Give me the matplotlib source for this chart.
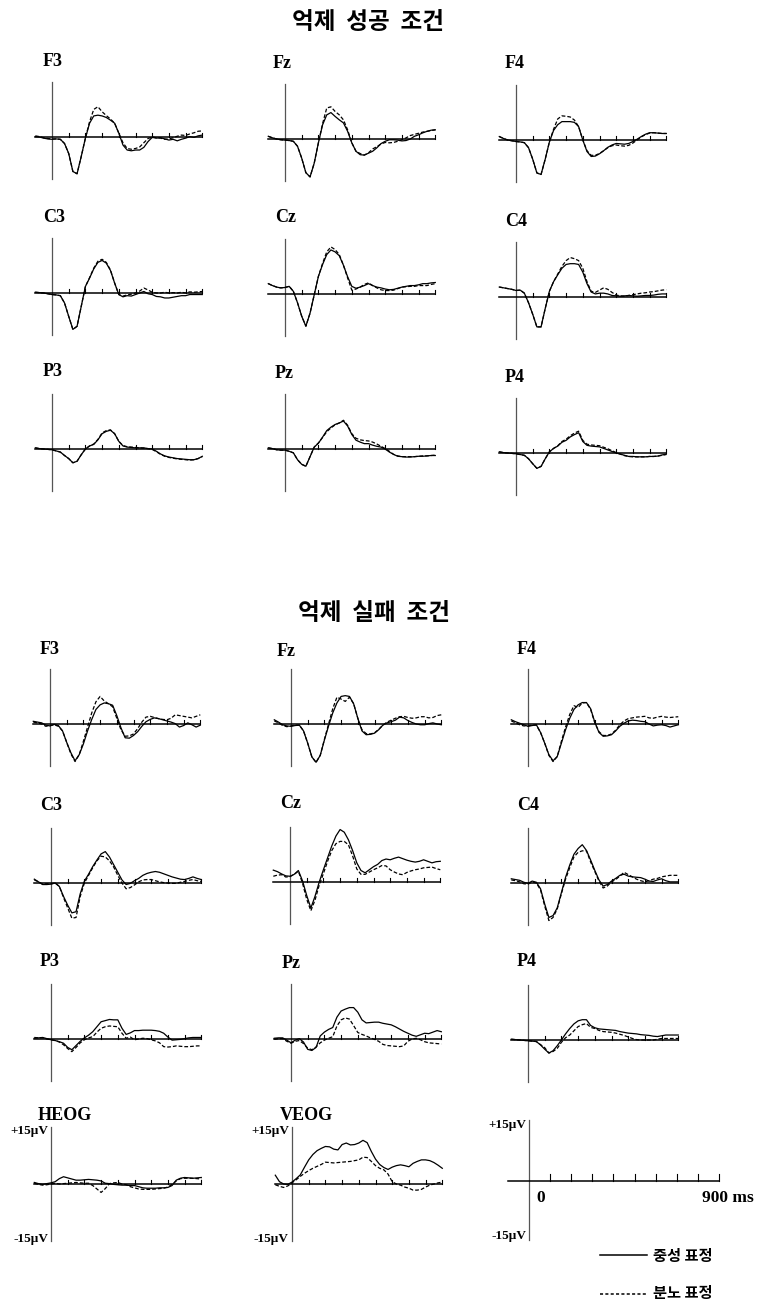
import numpy as np
import matplotlib
matplotlib.use("Agg")
import matplotlib.pyplot as plt

# time axis (ms), 25 ms steps from -100 to 900
t = np.arange(-100, 901, 25)

# ---- 억제 성공 조건 (neutral = solid, angry = dashed), values in µV ----
succ_F3_neu = [0.1, 0.0, -0.3, -0.5, -0.6, -0.5, -0.6, -1.7, -4.3, -9.0, -9.6, -5.1, -0.3, 3.6, 5.5, 5.7, 5.5, 5.1, 4.4, 3.6, 1.0, -2.1, -3.4, -3.6, -3.4, -3.4, -2.7, -1.2, -0.1, -0.3, -0.2, -0.5, -0.8, -0.6, -1.0, -0.6, -0.3, 0.1, -0.1, 0.3, 0.5]
succ_F3_ang = [0.3, 0.1, -0.2, -0.4, -0.5, -0.5, -0.6, -1.7, -4.3, -9.0, -9.6, -5.1, -0.3, 4.0, 7.2, 7.9, 6.6, 5.6, 4.7, 3.6, 1.0, -1.5, -3.0, -3.2, -3.0, -2.6, -1.5, -0.4, 0.0, -0.2, -0.3, -0.6, -0.5, -0.2, 0.2, 0.5, 0.4, 0.8, 1.1, 1.5, 1.6]
succ_Fz_neu = [0.7, 0.3, 0.0, -0.2, -0.3, -0.4, -0.6, -1.9, -5.0, -8.8, -9.9, -6.3, -1.0, 3.7, 6.3, 6.9, 5.9, 5.0, 4.2, 2.0, -1.0, -3.2, -4.1, -4.2, -3.7, -3.2, -2.3, -1.2, -0.6, -0.2, -0.2, -0.3, -0.5, -0.4, 0.0, 0.7, 1.1, 1.6, 2.0, 2.3, 2.4]
succ_Fz_ang = [0.7, 0.3, 0.0, -0.2, -0.3, -0.4, -0.6, -1.9, -5.0, -8.8, -9.9, -6.3, -1.0, 4.0, 8.1, 8.4, 7.2, 6.3, 5.0, 2.4, -1.0, -3.2, -3.8, -4.2, -3.6, -2.6, -2.0, -1.3, -0.9, -1.0, -0.9, -0.6, -0.2, 0.3, 0.9, 1.2, 1.5, 1.8, 2.0, 2.2, 2.4]
succ_F4_neu = [0.9, 0.4, 0.0, -0.2, -0.4, -0.5, -0.7, -2.0, -5.0, -8.6, -9.0, -5.0, -0.5, 2.5, 4.0, 4.8, 4.8, 4.8, 4.6, 3.5, 0.0, -3.0, -4.3, -4.2, -3.6, -2.8, -1.9, -1.3, -0.9, -1.0, -1.1, -0.9, -0.4, 0.2, 0.9, 1.5, 1.9, 1.9, 1.8, 1.7, 1.7]
succ_F4_ang = [0.9, 0.4, 0.0, -0.2, -0.4, -0.5, -0.7, -2.0, -5.0, -8.6, -9.0, -5.0, -0.5, 2.8, 5.5, 6.3, 6.2, 6.0, 5.2, 3.5, 0.0, -2.8, -4.0, -4.0, -3.5, -2.8, -2.0, -1.5, -1.3, -1.5, -1.6, -1.4, -0.8, 0.0, 0.8, 1.4, 1.8, 1.9, 1.8, 1.7, 1.7]
succ_C3_neu = [0.2, 0.1, 0.0, -0.2, -0.4, -0.5, -0.7, -2.6, -6.1, -9.5, -8.7, -3.5, 1.7, 3.9, 6.3, 8.0, 8.5, 7.8, 5.9, 2.6, -0.4, -1.0, -0.7, -0.8, -0.4, 0.0, 0.4, -0.2, -0.4, -0.9, -1.0, -1.3, -1.3, -1.1, -0.9, -0.7, -0.7, -0.4, -0.4, -0.4, -0.4]
succ_C3_ang = [0.2, 0.1, 0.0, -0.2, -0.4, -0.5, -0.7, -2.6, -6.1, -9.5, -8.7, -3.5, 1.7, 4.0, 6.5, 8.3, 8.8, 8.0, 6.0, 2.6, -0.4, -0.8, -0.5, -0.3, 0.0, 0.5, 1.3, 0.8, 0.2, 0.0, 0.0, 0.2, 0.0, 0.1, 0.0, 0.2, 0.0, 0.3, 0.2, 0.3, 0.4]
succ_Cz_neu = [2.7, 2.2, 1.8, 1.6, 1.7, 2.0, 0.7, -2.3, -5.8, -8.4, -5.0, -0.2, 4.6, 7.7, 10.3, 11.5, 11.0, 10.0, 7.5, 4.5, 2.0, 1.5, 1.8, 2.2, 2.7, 2.2, 1.8, 1.6, 1.3, 1.1, 1.2, 1.5, 1.8, 2.0, 2.2, 2.2, 2.4, 2.7, 2.7, 2.9, 3.0]
succ_Cz_ang = [2.7, 2.2, 1.8, 1.6, 1.7, 2.0, 0.7, -2.3, -5.8, -8.4, -5.0, -0.2, 4.6, 8.0, 11.0, 12.3, 11.6, 10.3, 7.5, 4.2, 1.0, 1.3, 1.8, 2.5, 2.9, 2.2, 1.6, 1.1, 0.9, 0.9, 1.0, 1.4, 1.8, 1.9, 2.0, 2.0, 2.2, 2.2, 2.2, 2.5, 2.7]
succ_C4_neu = [2.6, 2.4, 2.2, 2.0, 1.7, 1.8, 1.0, -1.5, -4.5, -7.8, -7.8, -3.0, 1.5, 4.0, 5.8, 7.5, 8.5, 8.7, 8.7, 8.5, 6.5, 3.5, 1.3, 0.8, 1.0, 1.0, 0.8, 0.4, 0.3, 0.2, 0.3, 0.4, 0.3, 0.2, 0.3, 0.4, 0.4, 0.5, 0.7, 0.8, 0.8]
succ_C4_ang = [2.6, 2.4, 2.2, 2.0, 1.7, 1.8, 1.0, -1.5, -4.5, -7.8, -7.8, -3.0, 1.5, 4.0, 6.0, 8.0, 9.5, 10.3, 10.0, 9.5, 7.5, 4.0, 1.5, 1.2, 1.8, 2.4, 2.0, 1.2, 0.5, 0.3, 0.2, 0.4, 0.6, 0.8, 1.0, 1.1, 1.3, 1.4, 1.6, 1.8, 1.9]
succ_P3_neu = [0.3, 0.1, 0.0, -0.1, -0.2, -0.5, -0.8, -1.7, -2.5, -3.6, -3.2, -1.5, 0.0, 0.8, 1.2, 2.4, 4.0, 4.6, 4.9, 4.0, 2.0, 0.8, 0.5, 0.4, 0.3, 0.3, 0.3, 0.1, 0.0, -0.6, -1.3, -1.8, -2.1, -2.3, -2.5, -2.6, -2.7, -2.8, -2.8, -2.5, -1.9]
succ_P3_ang = [0.3, 0.1, 0.0, -0.1, -0.2, -0.5, -0.8, -1.7, -2.5, -3.6, -3.2, -1.5, 0.0, 0.8, 1.3, 2.5, 4.2, 4.8, 5.0, 4.0, 2.0, 0.9, 0.6, 0.5, 0.4, 0.3, 0.2, 0.1, -0.1, -0.7, -1.4, -1.9, -2.2, -2.4, -2.6, -2.7, -2.8, -2.9, -2.8, -2.5, -2.0]
succ_Pz_neu = [0.3, 0.1, -0.2, -0.3, -0.3, -0.6, -1.0, -2.8, -4.0, -4.5, -2.0, 0.5, 1.5, 3.1, 4.8, 5.7, 6.4, 6.8, 7.3, 6.0, 3.8, 2.3, 1.8, 1.4, 1.4, 1.0, 0.7, 0.5, 0.0, -0.8, -1.4, -1.9, -2.0, -2.1, -2.1, -2.0, -1.9, -1.9, -1.8, -1.7, -1.7]
succ_Pz_ang = [0.3, 0.1, -0.2, -0.3, -0.3, -0.6, -1.0, -2.8, -4.0, -4.5, -2.0, 0.5, 1.6, 3.0, 4.5, 5.5, 6.3, 6.8, 7.5, 6.2, 4.0, 2.8, 2.4, 2.2, 2.1, 1.8, 1.3, 0.7, 0.1, -0.6, -1.4, -1.8, -2.0, -2.0, -2.0, -2.0, -1.9, -1.8, -1.8, -1.7, -1.6]
succ_P4_neu = [0.3, 0.1, 0.0, -0.1, -0.2, -0.4, -0.6, -1.5, -2.8, -4.0, -3.5, -1.5, 0.3, 1.2, 1.8, 2.8, 3.3, 4.2, 4.8, 5.3, 3.0, 2.0, 1.8, 1.7, 1.6, 1.2, 0.8, 0.4, 0.0, -0.3, -0.6, -0.9, -0.9, -1.0, -1.0, -1.0, -0.9, -0.9, -0.8, -0.5, -0.3]
succ_P4_ang = [0.3, 0.1, 0.0, -0.1, -0.2, -0.4, -0.6, -1.5, -2.8, -4.0, -3.5, -1.5, 0.3, 1.2, 1.9, 3.0, 3.6, 4.5, 5.2, 5.7, 3.3, 2.3, 2.1, 2.0, 1.9, 1.5, 1.1, 0.6, 0.1, -0.3, -0.7, -0.9, -1.0, -1.0, -1.0, -1.0, -0.9, -0.9, -0.8, -0.6, -0.4]

# ---- 억제 실패 조건 ----
fail_F3_neu = [0.7, 0.5, 0.3, -0.3, -0.5, -0.1, -0.4, -1.8, -4.8, -7.5, -9.6, -8.0, -5.2, -1.8, 1.2, 3.8, 5.0, 5.5, 5.3, 4.9, 2.2, -1.0, -3.6, -3.7, -3.0, -2.0, -0.6, 0.6, 1.2, 1.6, 1.4, 1.1, 0.8, 0.5, 0.1, -0.8, -0.4, 0.3, -0.2, -0.8, -0.3]
fail_F3_ang = [0.5, 0.3, 0.0, -0.6, -0.4, -0.2, -0.6, -1.8, -4.8, -7.8, -9.8, -8.0, -4.5, -0.8, 2.9, 5.8, 7.2, 6.0, 5.3, 4.5, 1.5, -1.5, -3.2, -3.1, -2.6, -1.2, 0.5, 1.8, 2.0, 1.7, 1.4, 1.2, 1.1, 1.5, 2.4, 2.2, 2.0, 1.8, 1.6, 2.0, 2.4]
fail_Fz_neu = [1.1, 0.5, -0.2, -0.5, -0.6, -0.4, -0.3, -1.8, -5.0, -8.6, -10.0, -8.2, -4.2, -0.5, 2.9, 5.5, 7.2, 7.4, 7.2, 5.3, 1.5, -1.8, -2.8, -2.7, -2.4, -1.5, -0.3, 0.3, 0.6, 1.0, 1.8, 1.6, 0.9, 0.4, 0.0, -0.2, -0.2, 0.1, 0.3, 0.0, -0.2]
fail_Fz_ang = [0.8, 0.3, -0.4, -0.7, -0.5, -0.3, -0.3, -1.8, -5.0, -8.6, -10.0, -8.2, -4.0, 0.0, 4.0, 7.0, 6.5, 5.9, 7.0, 5.3, 1.5, -1.5, -2.5, -2.6, -2.3, -1.4, -0.3, 0.5, 1.0, 1.5, 1.9, 2.0, 1.7, 1.5, 1.6, 1.9, 1.9, 1.6, 1.7, 2.2, 2.4]
fail_F4_neu = [1.1, 0.6, 0.2, -0.2, -0.6, -0.4, -0.2, -2.2, -5.0, -8.0, -9.6, -8.5, -5.0, -1.5, 1.5, 3.8, 5.0, 5.6, 5.6, 4.0, 0.5, -2.2, -3.2, -3.1, -2.8, -1.8, -0.6, 0.2, 0.8, 1.0, 0.9, 0.7, 0.6, 0.0, -0.5, -0.3, -0.2, -0.4, -0.8, -0.5, -0.2]
fail_F4_ang = [0.8, 0.3, -0.2, -0.5, -0.5, -0.3, -0.3, -2.2, -5.0, -8.2, -9.8, -8.5, -4.5, -0.8, 2.5, 4.8, 4.3, 5.5, 5.6, 3.8, 0.3, -2.0, -3.0, -3.0, -2.6, -1.6, -0.2, 0.8, 1.4, 1.6, 1.8, 1.9, 2.0, 1.6, 1.5, 1.8, 2.0, 1.8, 1.7, 1.8, 1.9]
fail_C3_neu = [1.0, 0.3, -0.4, -0.4, -0.3, 0.0, -0.9, -3.5, -5.8, -7.8, -7.5, -2.8, 0.5, 2.3, 4.3, 6.0, 7.6, 8.2, 6.8, 4.8, 2.8, 0.8, -0.4, -0.1, 0.6, 1.2, 2.0, 2.5, 2.8, 3.0, 2.8, 2.4, 2.0, 1.6, 1.3, 1.0, 0.9, 1.2, 1.6, 1.2, 0.9]
fail_C3_ang = [0.8, 0.3, -0.3, -0.2, -0.2, 0.0, -0.9, -3.8, -6.5, -9.2, -9.0, -3.5, 0.0, 2.0, 4.0, 5.8, 7.0, 6.8, 5.8, 4.2, 2.0, 0.0, -1.5, -1.2, -0.5, 0.3, 0.8, 0.9, 0.9, 0.6, 0.3, 0.1, 0.0, -0.1, -0.1, 0.2, 0.4, 0.7, 0.9, 0.6, 0.4]
fail_Cz_neu = [3.1, 2.7, 2.1, 1.6, 1.5, 2.0, 3.0, 0.3, -3.5, -6.8, -3.7, 0.0, 3.2, 6.3, 9.4, 12.0, 13.7, 13.0, 11.0, 8.2, 5.0, 3.0, 2.4, 3.2, 4.0, 4.6, 5.6, 6.0, 5.8, 6.2, 6.5, 6.1, 5.7, 5.4, 5.2, 5.4, 5.8, 5.4, 5.0, 5.3, 5.4]
fail_Cz_ang = [1.5, 1.8, 1.9, 1.3, 1.4, 2.0, 2.8, -0.3, -4.5, -7.5, -4.7, -0.8, 2.2, 5.4, 8.2, 10.0, 10.6, 10.6, 9.7, 6.8, 3.4, 2.0, 2.0, 2.6, 3.2, 3.7, 4.3, 4.2, 3.2, 2.6, 2.1, 1.9, 2.5, 2.9, 3.2, 3.4, 3.7, 3.8, 3.9, 3.5, 3.2]
fail_C4_neu = [1.1, 0.9, 0.7, 0.2, -0.1, 0.5, 0.2, -1.5, -5.5, -9.0, -8.5, -6.5, -2.5, 1.5, 4.7, 7.5, 9.0, 10.0, 8.5, 6.0, 3.3, 0.8, -0.8, -0.4, 0.5, 1.2, 2.0, 2.3, 1.8, 1.6, 1.5, 1.4, 1.0, 0.5, 0.4, 0.8, 1.1, 0.6, 0.3, 0.3, 0.3]
fail_C4_ang = [0.8, 0.6, 0.3, -0.2, -0.3, 0.3, 0.0, -1.8, -6.0, -9.8, -9.0, -6.8, -2.8, 1.0, 4.0, 6.8, 8.0, 8.4, 8.4, 5.5, 3.0, 0.5, -1.3, -0.8, 0.3, 0.9, 1.8, 2.8, 2.2, 1.6, 1.0, 0.6, 0.3, 0.6, 1.0, 1.2, 1.6, 1.8, 2.0, 2.0, 2.0]
fail_P3_neu = [0.2, 0.3, 0.4, 0.1, -0.2, -0.4, -0.7, -1.1, -2.2, -2.8, -1.7, -0.6, 0.3, 1.0, 1.9, 3.2, 4.5, 4.8, 5.1, 5.0, 5.0, 2.8, 1.2, 1.6, 2.2, 2.2, 2.3, 2.3, 2.3, 2.2, 2.0, 1.5, 0.5, -0.3, -0.2, -0.1, 0.1, 0.3, 0.4, 0.4, 0.4]
fail_P3_ang = [0.4, 0.3, 0.3, 0.0, -0.2, -0.4, -0.8, -1.5, -2.5, -3.3, -2.2, -1.0, -0.2, 0.3, 0.6, 1.8, 2.8, 3.2, 3.4, 3.3, 3.2, 1.5, 0.2, 0.5, -0.2, 0.0, 0.2, 0.1, -0.2, -0.5, -1.0, -2.0, -2.1, -2.0, -1.8, -1.9, -2.0, -2.0, -1.9, -1.8, -1.8]
fail_Pz_neu = [0.2, 0.3, 0.3, -0.3, -1.0, -0.3, 0.1, -0.8, -2.7, -3.0, -2.2, 0.8, 1.8, 2.5, 3.0, 5.7, 7.3, 7.8, 8.2, 8.2, 7.0, 5.0, 4.2, 4.3, 4.4, 4.4, 4.1, 3.9, 3.7, 3.2, 2.6, 2.0, 1.5, 1.0, 0.7, 1.1, 1.5, 1.4, 1.8, 2.2, 1.9]
fail_Pz_ang = [-0.1, 0.1, 0.1, -0.6, -1.1, -0.6, -0.4, -1.2, -2.4, -2.8, -2.1, -1.0, -0.3, 0.2, 0.6, 3.4, 5.0, 5.5, 5.2, 3.5, 1.7, 1.2, 0.8, 0.3, -0.1, -0.6, -1.4, -1.7, -1.8, -1.9, -2.0, -1.8, -0.6, 0.0, 0.2, -0.2, -0.7, -1.0, -1.1, -1.2, -1.3]
fail_P4_neu = [0.2, 0.1, 0.0, -0.1, -0.2, -0.3, -0.4, -1.3, -2.4, -3.4, -2.8, -1.5, 0.0, 1.6, 3.0, 4.2, 5.0, 5.3, 5.3, 3.8, 3.2, 2.9, 2.8, 2.7, 2.6, 2.5, 2.2, 2.0, 1.8, 1.7, 1.6, 1.4, 1.3, 1.2, 1.0, 0.9, 1.1, 1.3, 1.3, 1.3, 1.3]
fail_P4_ang = [0.2, 0.1, 0.0, -0.1, -0.2, -0.3, -0.4, -1.2, -2.0, -3.4, -3.0, -2.2, -0.6, 0.6, 1.3, 2.4, 3.5, 4.0, 4.3, 3.3, 3.0, 2.5, 2.2, 2.1, 2.0, 1.8, 1.5, 1.2, 0.8, 0.4, 0.1, 0.0, 0.0, 0.0, 0.0, 0.2, 0.4, 0.4, 0.4, 0.4, 0.4]
heog_neu = [0.4, 0.1, -0.1, 0.1, 0.3, 0.6, 1.4, 1.9, 1.6, 1.3, 1.0, 1.0, 1.1, 1.2, 1.1, 1.0, 0.8, 0.2, 0.1, -0.1, -0.2, -0.3, -0.3, -0.4, -0.4, -0.7, -1.0, -1.1, -1.1, -1.1, -1.0, -1.0, -0.9, -0.4, 1.0, 1.5, 1.7, 1.6, 1.5, 1.6, 1.7]
heog_ang = [0.2, -0.1, -0.3, -0.2, 0.0, 0.2, 0.0, 0.1, 0.2, 0.3, 0.4, 0.3, 0.2, 0.2, -0.4, -1.3, -2.2, -1.2, 0.1, 0.3, 0.4, 0.0, -0.2, -0.7, -1.0, -1.3, -1.4, -1.4, -1.4, -1.3, -1.2, -1.1, -0.8, -0.1, 0.8, 1.4, 1.5, 1.5, 1.5, 1.4, 1.3]
veog_neu = [2.3, 0.6, 0.0, -0.1, 0.5, 1.4, 2.4, 4.4, 6.3, 7.7, 8.7, 9.3, 9.8, 9.7, 9.1, 8.9, 10.3, 10.7, 10.2, 10.3, 10.7, 11.4, 10.8, 8.5, 6.5, 5.1, 4.3, 3.8, 4.4, 4.8, 5.0, 4.8, 4.5, 5.4, 5.9, 6.3, 6.3, 6.1, 5.6, 4.9, 4.1]
veog_ang = [-0.2, -0.6, -0.9, -0.5, 0.3, 1.1, 2.0, 2.8, 3.5, 4.1, 4.6, 5.1, 5.7, 5.6, 5.5, 5.6, 5.7, 5.8, 5.9, 6.1, 6.3, 7.0, 6.9, 5.9, 4.8, 4.1, 3.7, 2.6, 0.6, 0.0, -0.3, -0.8, -1.1, -1.6, -1.6, -1.4, -0.8, -0.3, 0.0, 0.3, 0.5]

titles = ["억제  성공  조건", "억제  실패  조건"]
legend_labels = ["중성 표정", "분노 표정"]

W, H = 763, 1311
SERIF = ["Liberation Serif", "DejaVu Serif"]
KO = ["Noto Sans CJK KR", "DejaVu Sans"]

fig = plt.figure(figsize=(W / 100, H / 100), dpi=100, facecolor="white")

# overlay in pixel coords for text
ov = fig.add_axes([0, 0, 1, 1])
ov.set_xlim(0, W)
ov.set_ylim(H, 0)
ov.axis("off")


def panel(x0, y0, neu=None, ang=None, vtop=14.4, vbot=-11.0,
          ms_px=0.167, uv_px=3.83, tick_h=1.0):
    t_lo, t_hi, v_lo, v_hi = -130, 950, -16, 16
    left = (x0 + t_lo * ms_px) / W
    width = (t_hi - t_lo) * ms_px / W
    bottom = 1 - (y0 - v_lo * uv_px) / H
    height = (v_hi - v_lo) * uv_px / H
    ax = fig.add_axes([left, bottom, width, height])
    ax.set_xlim(t_lo, t_hi)
    ax.set_ylim(v_lo, v_hi)
    ax.axis("off")
    ax.patch.set_alpha(0)
    ax.plot([0, 0], [vbot, vtop], color="#555555", lw=0.9)
    ax.plot([-100, 900], [0, 0], color="black", lw=1.1)
    for tk in range(100, 901, 100):
        ax.plot([tk, tk], [0, tick_h], color="black", lw=0.8)
    if neu is not None:
        ax.plot(t, neu, color="black", lw=0.9)
    if ang is not None:
        ax.plot(t, ang, color="black", lw=0.9, dashes=(3, 1.6))
    return ax


# section 1
ov.text(368, 22, titles[0], family=KO, weight="bold", fontsize=17,
        ha="center", va="center")
succ = [
    (52, 137, "F3", 43, 61, succ_F3_neu, succ_F3_ang),
    (285, 139, "Fz", 273, 64, succ_Fz_neu, succ_Fz_ang),
    (516, 140, "F4", 505, 64, succ_F4_neu, succ_F4_ang),
    (52, 293, "C3", 43, 217, succ_C3_neu, succ_C3_ang),
    (285, 294, "Cz", 275, 217, succ_Cz_neu, succ_Cz_ang),
    (516, 297, "C4", 505, 222, succ_C4_neu, succ_C4_ang),
    (52, 449, "P3", 43, 372, succ_P3_neu, succ_P3_ang),
    (285, 449, "Pz", 275, 374, succ_Pz_neu, succ_Pz_ang),
    (516, 453, "P4", 505, 378, succ_P4_neu, succ_P4_ang),
]
# section 2
ov.text(374, 613, titles[1], family=KO, weight="bold", fontsize=17,
        ha="center", va="center")
fail = [
    (50, 724, "F3", 40, 650, fail_F3_neu, fail_F3_ang),
    (291, 724, "Fz", 277, 651, fail_Fz_neu, fail_Fz_ang),
    (528, 724, "F4", 517, 650, fail_F4_neu, fail_F4_ang),
    (51, 883, "C3", 40, 805, fail_C3_neu, fail_C3_ang),
    (290, 882, "Cz", 280, 803, fail_Cz_neu, fail_Cz_ang),
    (528, 883, "C4", 517, 805, fail_C4_neu, fail_C4_ang),
    (51, 1039, "P3", 40, 962, fail_P3_neu, fail_P3_ang),
    (291, 1039, "Pz", 282, 963, fail_Pz_neu, fail_Pz_ang),
    (528, 1040, "P4", 517, 962, fail_P4_neu, fail_P4_ang),
]
for x0, y0, lab, lx, ly, neu, ang in succ + fail:
    panel(x0, y0, neu, ang)
    ov.text(lx, ly, lab, family=SERIF, weight="bold", fontsize=13,
            ha="left", va="center")

# EOG row
for x0, lab, lx, neu, ang in [(51, "HEOG", 38, heog_neu, heog_ang),
                              (292, "VEOG", 280, veog_neu, veog_ang)]:
    panel(x0, 1184, neu, ang, vtop=15, vbot=-15)
    ov.text(lx, 1116, lab, family=SERIF, weight="bold", fontsize=13,
            ha="left", va="center")
    ov.text(x0 - 3, 1131, "+15µV", family=SERIF, weight="bold", fontsize=9.5,
            ha="right", va="center")
    ov.text(x0 - 3, 1239, "-15µV", family=SERIF, weight="bold", fontsize=9.5,
            ha="right", va="center")

# scale panel
panel(529, 1181, vtop=15.5, vbot=-15, ms_px=0.211, uv_px=3.95, tick_h=1.8)
ov.text(526, 1125, "+15µV", family=SERIF, weight="bold", fontsize=9.5,
        ha="right", va="center")
ov.text(526, 1236, "-15µV", family=SERIF, weight="bold", fontsize=9.5,
        ha="right", va="center")
ov.text(536, 1198, "0", family=SERIF, weight="bold", fontsize=12.5,
        ha="left", va="center")
ov.text(702, 1198, "900 ms", family=SERIF, weight="bold", fontsize=12.5,
        ha="left", va="center")

# legend
ov.plot([600, 647], [1255, 1255], color="black", lw=1.1)
ov.text(653, 1256, legend_labels[0], family=KO, weight="bold", fontsize=11,
        ha="left", va="center")
ov.plot([600, 647], [1294, 1294], color="black", lw=1.1, dashes=(2, 1.5))
ov.text(653, 1293, legend_labels[1], family=KO, weight="bold", fontsize=11,
        ha="left", va="center")

fig.savefig("out.png", dpi=100, facecolor="white")
